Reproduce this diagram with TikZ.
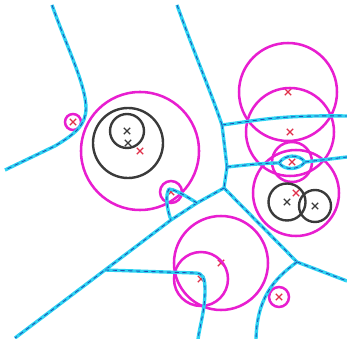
\documentclass[tikz,border=0pt]{standalone}
\usepackage{xcolor}
\usepackage{tikz}
\usetikzlibrary{shapes.misc}
\definecolor{vorcyan}{HTML}{2DD2F2}
\definecolor{vorblue}{HTML}{1C4FB4}
\definecolor{sitemag}{HTML}{E81ED0}
\definecolor{sitered}{HTML}{E0304A}
\definecolor{holegray}{HTML}{3A3A3A}
\tikzset{
  vedge/.style={draw=vorcyan, line width=2.4pt, line join=round,
                postaction={draw=vorblue, line width=0.6pt, dash pattern=on 3pt off 2.5pt}},
  ring/.style={draw=sitemag, line width=1.8pt},
  hole/.style={draw=holegray, line width=1.7pt},
  redx/.style={cross out, draw=sitered, line width=0.8pt, minimum size=0.13cm, inner sep=0pt},
  grayx/.style={cross out, draw=holegray, line width=0.8pt, minimum size=0.13cm, inner sep=0pt}
}
\begin{document}
\begin{tikzpicture}[x=0.025cm, y=-0.025cm]
    \useasboundingbox (0,0) rectangle (347,339);

    % sites and their circles
    \node[redx] (s1) at (73,122) {};
    \node[redx] (s2) at (140,151) {};
    \node[redx] (s3) at (171,192) {};
    \node[redx] (s4) at (288,92) {};
    \node[redx] (s5) at (290,132) {};
    \node[redx] (s6) at (292,162) {};
    \node[redx] (s7) at (296,193) {};
    \node[redx] (s8) at (221,263) {};
    \node[redx] (s9) at (201,279) {};
    \node[redx] (s10) at (279,297) {};
    \node[grayx] (h1) at (128,143) {};
    \node[grayx] (h2) at (127,131) {};
    \node[grayx] (h3) at (287,202) {};
    \node[grayx] (h4) at (315,206) {};

    \draw[ring] (s1.center) circle[radius=8];
    \draw[ring] (s2.center) circle[radius=59];
    \draw[ring] (s3.center) circle[radius=11];
    \draw[ring] (s4.center) circle[radius=49];
    \draw[ring] (s5.center) circle[radius=44];
    \draw[ring] (s6.center) circle[radius=20];
    \draw[ring] (s7.center) circle[radius=43];
    \draw[ring] (s8.center) circle[radius=47];
    \draw[ring] (s9.center) circle[radius=27];
    \draw[ring] (s10.center) circle[radius=10];
    \draw[hole] (h1.center) circle[radius=35];
    \draw[hole] (h2.center) circle[radius=17];
    \draw[hole] (h3.center) circle[radius=18.5];
    \draw[hole] (h4.center) circle[radius=16];

    % voronoi vertices and ends
    \coordinate (va) at (222,125);
    \coordinate (vb) at (227,167);
    \coordinate (vc) at (224,188);
    \coordinate (vd) at (197,203);
    \coordinate (ve) at (171,220);
    \coordinate (vf) at (297,262);
    \coordinate (vg) at (105,270);
    \coordinate (vpk) at (169,189);
    \coordinate (eyeL) at (279,163);
    \coordinate (eyeR) at (305,162);
    \coordinate (kA) at (86,108);
    \coordinate (mA) at (55,146);
    \coordinate (kG) at (195,273);
    \coordinate (nA) at (52,5);
    \coordinate (nA2) at (5,170);
    \coordinate (nB) at (177,5);
    \coordinate (nC) at (347,116);
    \coordinate (nD) at (347,157);
    \coordinate (nE) at (347,281);
    \coordinate (nF) at (256,339);
    \coordinate (nG) at (198,339);
    \coordinate (nH) at (15,338);

    \draw[vedge] (nA) .. controls (66,45) and (86,85) .. (kA)
                 .. controls (86,125) and (75,134) .. (mA) -- (nA2);
    \draw[vedge] (nB) .. controls (195,55) and (212,95) .. (va);
    \draw[vedge] (va) .. controls (260,120) and (280,115) .. (nC);
    \draw[vedge] (va) -- (vb);
    \draw[vedge] (vb) .. controls (245,165) and (265,163) .. (eyeL);
    \draw[vedge] (eyeL) .. controls (285,154) and (299,154) .. (eyeR)
                 .. controls (299,170) and (285,171) .. (eyeL);
    \draw[vedge] (eyeR) -- (nD);
    \draw[vedge] (vb) -- (vc);
    \draw[vedge] (vc) -- (vf);
    \draw[vedge] (vf) -- (nE);
    \draw[vedge] (vf) .. controls (272,280) and (257,300) .. (nF);
    \draw[vedge] (vc) -- (vd) -- (ve) -- (vg) -- (nH);
    \draw[vedge] (vd) .. controls (186,196) and (176,190) .. (vpk)
                 .. controls (165,195) and (167,210) .. (ve);
    \draw[vedge] (vg) -- (kG) .. controls (203,273) and (205,278) .. (205,290)
                 .. controls (205,310) and (200,325) .. (nG);
\end{tikzpicture}
\end{document}
